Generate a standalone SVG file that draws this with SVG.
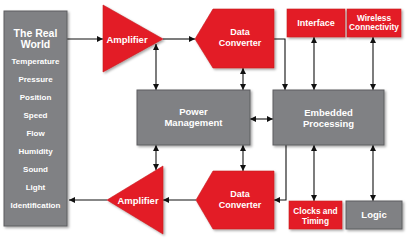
<svg xmlns="http://www.w3.org/2000/svg" width="407" height="240" viewBox="0 0 407 240">
<defs>
<filter id="sh" x="-10%" y="-10%" width="130%" height="130%">
<feDropShadow dx="1.5" dy="1.5" stdDeviation="1" flood-color="#000" flood-opacity="0.35"/>
</filter>
<marker id="ah" viewBox="0 0 6 6" refX="6" refY="3" markerWidth="6" markerHeight="6" markerUnits="userSpaceOnUse" orient="auto-start-reverse">
<path d="M0,0 L6,3 L0,6 z" fill="#111"/>
</marker>
<style>
.g{fill:#808184;stroke:#5c5d60;stroke-width:1;filter:url(#sh)}
.r{fill:#e31e26;stroke:#c8161d;stroke-width:0.6;filter:url(#sh)}
text{font-family:"Liberation Sans",Arial,sans-serif;font-weight:bold;fill:#fff;text-anchor:middle}
.c line,.c polyline{stroke:#111;stroke-width:1.1;fill:none}
.one{marker-end:url(#ah)}
.two{marker-start:url(#ah);marker-end:url(#ah)}
</style>
</defs>
<rect width="407" height="240" fill="#fff"/>
<g class="c">
<line class="one" x1="67" y1="39" x2="103" y2="39"/>
<line class="one" x1="163" y1="39" x2="195" y2="39"/>
<polyline class="one" points="274,39 285,39 285,90"/>
<line class="two" x1="156" y1="44" x2="156" y2="90"/>
<line class="two" x1="243" y1="68" x2="243" y2="90"/>
<line class="two" x1="250" y1="119" x2="273" y2="119"/>
<line class="two" x1="314" y1="37" x2="314" y2="90"/>
<line class="two" x1="373" y1="37" x2="373" y2="90"/>
<line class="two" x1="156" y1="145" x2="156" y2="170"/>
<line class="two" x1="243" y1="145" x2="243" y2="171"/>
<polyline class="one" points="286,145 286,200 274,200"/>
<line class="two" x1="314" y1="145" x2="314" y2="201"/>
<line class="two" x1="373" y1="145" x2="373" y2="201"/>
<line class="one" x1="196" y1="200" x2="163" y2="200"/>
<line class="one" x1="107" y1="200" x2="69" y2="200"/>
</g>
<g id="real-world">
<rect class="g" x="4" y="11" width="63" height="215"/>
<text x="35.5" y="37" font-size="10.5">The Real</text>
<text x="35.5" y="47.5" font-size="10.5">World</text>
<text x="35.5" y="63.5" font-size="8">Temperature</text>
<text x="35.5" y="81.5" font-size="8">Pressure</text>
<text x="35.5" y="99.5" font-size="8">Position</text>
<text x="35.5" y="117.5" font-size="8">Speed</text>
<text x="35.5" y="135.5" font-size="8">Flow</text>
<text x="35.5" y="153.5" font-size="8">Humidity</text>
<text x="35.5" y="171.5" font-size="8">Sound</text>
<text x="35.5" y="189.5" font-size="8">Light</text>
<text x="35.5" y="207.5" font-size="8">Identification</text>
</g>
<g id="amp-top">
<polygon class="r" points="103,5 163,39 103,72"/>
<text x="127" y="42.5" font-size="9.5">Amplifier</text>
</g>
<g id="dc-top">
<polygon class="r" points="195,39 213,9 274,9 274,68 213,68"/>
<text x="240" y="34.5" font-size="9">Data</text>
<text x="240" y="45.5" font-size="9">Converter</text>
</g>
<g id="power">
<rect class="g" x="137" y="90" width="113" height="55"/>
<text x="193.5" y="115" font-size="9.5">Power</text>
<text x="193.5" y="126" font-size="9.5">Management</text>
</g>
<g id="embedded">
<rect class="g" x="273" y="90" width="111" height="55"/>
<text x="328.5" y="116" font-size="9.5">Embedded</text>
<text x="328.5" y="127" font-size="9.5">Processing</text>
</g>
<g id="interface">
<rect class="r" x="287" y="9" width="58" height="28"/>
<text x="316" y="26" font-size="9">Interface</text>
</g>
<g id="wireless">
<rect class="r" x="347" y="9" width="54" height="28"/>
<text x="374" y="20.5" font-size="8.3">Wireless</text>
<text x="374" y="30" font-size="8.3">Connectivity</text>
</g>
<g id="amp-bottom">
<polygon class="r" points="163,166 107,200 163,234"/>
<text x="138" y="203.5" font-size="9.5">Amplifier</text>
</g>
<g id="dc-bottom">
<polygon class="r" points="196,200 213,171 274,171 274,229 213,229"/>
<text x="240" y="196.5" font-size="9">Data</text>
<text x="240" y="207.5" font-size="9">Converter</text>
</g>
<g id="clocks">
<rect class="r" x="289" y="201" width="53" height="28"/>
<text x="315.5" y="213.5" font-size="8.3">Clocks and</text>
<text x="315.5" y="223.5" font-size="8.3">Timing</text>
</g>
<g id="logic">
<rect class="g" x="346" y="201" width="56" height="28"/>
<text x="374" y="218" font-size="9.5">Logic</text>
</g>
</svg>
